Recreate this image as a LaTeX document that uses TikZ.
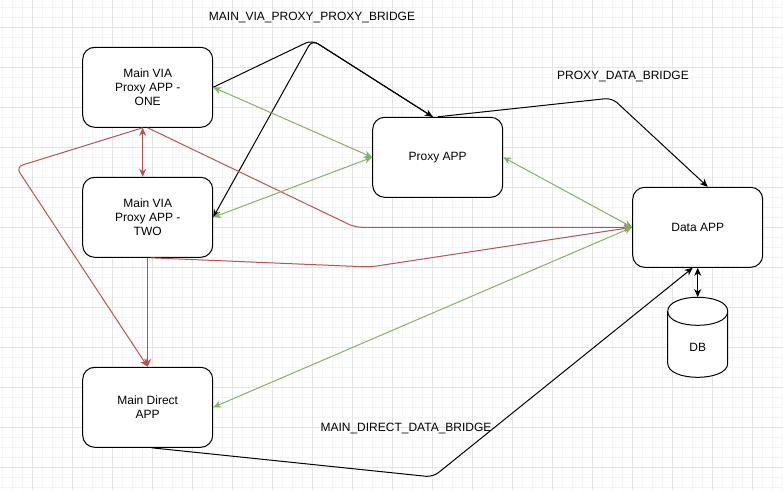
\documentclass[tikz,border=0pt]{standalone}
\usepackage{fontspec}
\setmainfont{Liberation Sans}
\usetikzlibrary{arrows.meta}
\definecolor{redc}{HTML}{B85450}
\definecolor{greenc}{HTML}{82B366}
\definecolor{gminor}{HTML}{F4F4F4}
\definecolor{gmajor}{HTML}{E4E4E4}
\tikzset{
  >={Stealth[length=8pt,width=7pt,inset=2.5pt]},
  appbox/.style={draw=black, line width=1pt, rounded corners=12pt, fill=white,
    minimum width=130pt, minimum height=80pt, inner sep=0pt, align=center,
    font=\fontsize{12}{14.3}\selectfont},
  lbl/.style={inner sep=0pt, font=\fontsize{12}{14.3}\selectfont},
  blk/.style={draw=black, line width=1pt, rounded corners=7pt},
  redl/.style={draw=redc, line width=1pt, rounded corners=7pt},
  grnl/.style={draw=greenc, line width=1pt, <->},
}
\begin{document}
\begin{tikzpicture}[x=1pt,y=-1pt]
\useasboundingbox (0,0) rectangle (783,490);
\fill[white] (0,0) rectangle (783,490);
% grid
\foreach \x in {2.7,12.7,...,782.7} \draw[gminor, line width=0.8pt] (\x,0) -- (\x,490);
\foreach \y in {7.3,17.3,...,487.3} \draw[gminor, line width=0.8pt] (0,\y) -- (783,\y);
\foreach \x in {32.7,72.7,...,752.7} \draw[gmajor, line width=0.8pt] (\x,0) -- (\x,490);
\foreach \y in {27.3,67.3,...,467.3} \draw[gmajor, line width=0.8pt] (0,\y) -- (783,\y);

% nodes
\node[appbox] (one) at (147.7,87.3) {Main VIA\\Proxy APP -\\ONE};
\node[appbox] (two) at (147.7,217.3) {Main VIA\\Proxy APP -\\TWO};
\node[appbox] (proxy) at (437.7,157.3) {Proxy APP};
\node[appbox] (data) at (697.7,227.3) {Data APP};
\node[appbox] (direct) at (147.7,407.3) {Main Direct\\APP};

% DB cylinder
\node[minimum width=60pt, minimum height=80pt, inner sep=0pt] (db) at (697.7,337.3) {};
\draw[line width=1pt, fill=white] (667.7,311.3) .. controls (667.7,292.6) and (727.7,292.6) .. (727.7,311.3)
  -- (727.7,363.3) .. controls (727.7,382) and (667.7,382) .. (667.7,363.3) -- cycle;
\draw[line width=1pt] (667.7,311.3) .. controls (667.7,330) and (727.7,330) .. (727.7,311.3);
\node[lbl] at (697.7,347.7) {DB};

% labels
\node[lbl] (l1) at (312,18) {MAIN\_VIA\_PROXY\_PROXY\_BRIDGE};
\node[lbl] (l2) at (623,77) {PROXY\_DATA\_BRIDGE};
\node[lbl] (l3) at (406,428) {MAIN\_DIRECT\_DATA\_BRIDGE};

% waypoints
\coordinate (apex) at (312,40);
\coordinate (pd) at (612,98);
\coordinate (md) at (433,477);
\coordinate (rl) at (16,167);
\coordinate (rr) at (355,227.3);
\coordinate (rt) at (370,267);

% black connectors
\draw[blk, ->] (one.east) -- (apex) -- ([xshift=-5pt]proxy.north);
\draw[blk, ->] ([xshift=-5pt]proxy.north) -- (apex) -- (two.east);
\draw[blk, ->] (proxy.north) -- (pd) -- ([xshift=10pt]data.north);
\draw[blk, ->] ([xshift=4pt]direct.south) -- (md) -- ([xshift=-5pt]data.south);
\draw[draw=black, line width=1pt, <->] (data.south) -- (db.north);

% red connectors
\draw[redl, <->] ([xshift=-5pt]one.south) -- ([xshift=-5pt]two.north);
\draw[redl, ->] ([xshift=-5pt]one.south) -- (rl) -- (direct.north);
\draw[redl, ->] (one.south) -- (rr) -- (data.west);
\draw[redl, ->] ([xshift=3pt]two.south) -- (rt) -- (data.west);
\draw[redl, ->] (two.south) -- (direct.north);

% green connectors
\draw[grnl] (one.east) -- (proxy.west);
\draw[grnl] (two.east) -- (proxy.west);
\draw[grnl] (proxy.east) -- (data.west);
\draw[grnl] (direct.east) -- (data.west);
\end{tikzpicture}
\end{document}
